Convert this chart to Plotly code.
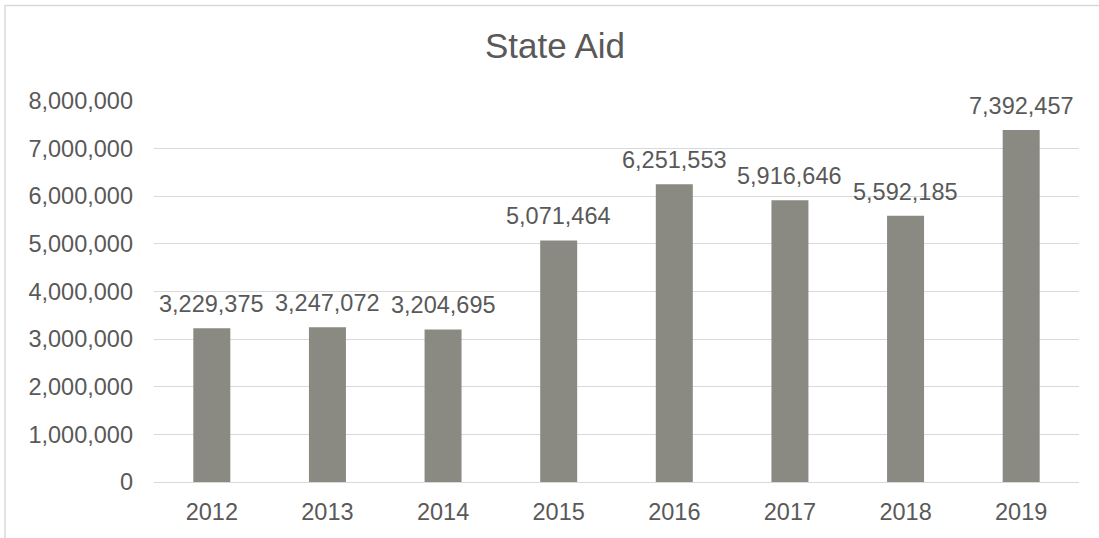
import plotly.graph_objects as go

years = ["2012", "2013", "2014", "2015", "2016", "2017", "2018", "2019"]
state_aid = [3229375, 3247072, 3204695, 5071464, 6251553, 5916646, 5592185, 7392457]
y_ticks = [0, 1000000, 2000000, 3000000, 4000000, 5000000, 6000000, 7000000, 8000000]

FONT = "Liberation Sans"
TXT = "#595959"
BAR = "#8A8A83"
GRID = "#D9D9D9"

fig = go.Figure()
fig.add_trace(go.Bar(x=years, y=state_aid, marker=dict(color=BAR, line=dict(width=0)),
                     hoverinfo="x+y"))

for i, v in enumerate(state_aid):
    fig.add_annotation(x=i, y=v, xref="x", yref="y", text=f"{v:,}", showarrow=False,
                       xanchor="center", yanchor="bottom", yshift=9,
                       font=dict(family=FONT, size=23.5, color=TXT))

fig.update_layout(
    width=1099, height=538,
    margin=dict(l=154, r=20, t=101, b=56),
    paper_bgcolor="white", plot_bgcolor="white",
    bargap=0.68,
    showlegend=False,
    title=dict(text="State Aid", x=555/1099, xref="container", xanchor="center",
               y=1-46/538, yref="container", yanchor="middle",
               font=dict(family=FONT, size=35, color=TXT)),
    xaxis=dict(type="category", range=[-0.5, 7.5], showgrid=False, showline=False, ticks="",
               tickfont=dict(family=FONT, size=23.5, color=TXT), ticklabelstandoff=13),
    yaxis=dict(range=[0, 8000000], tickvals=y_ticks, tickformat=",d",
               showgrid=True, gridcolor=GRID, gridwidth=1, zeroline=True,
               zerolinecolor=GRID, zerolinewidth=1, showline=False, ticks="",
               tickfont=dict(family=FONT, size=23.5, color=TXT), ticklabelstandoff=20),
    shapes=[dict(type="rect", xref="paper", yref="paper",
                 x0=(5-154)/925, x1=(1110-154)/925, y0=-(560-482)/381, y1=1+(101-5.5)/381,
                 line=dict(color=GRID, width=1.5), fillcolor="rgba(0,0,0,0)", layer="below")],
)

fig.write_html("out.html")
